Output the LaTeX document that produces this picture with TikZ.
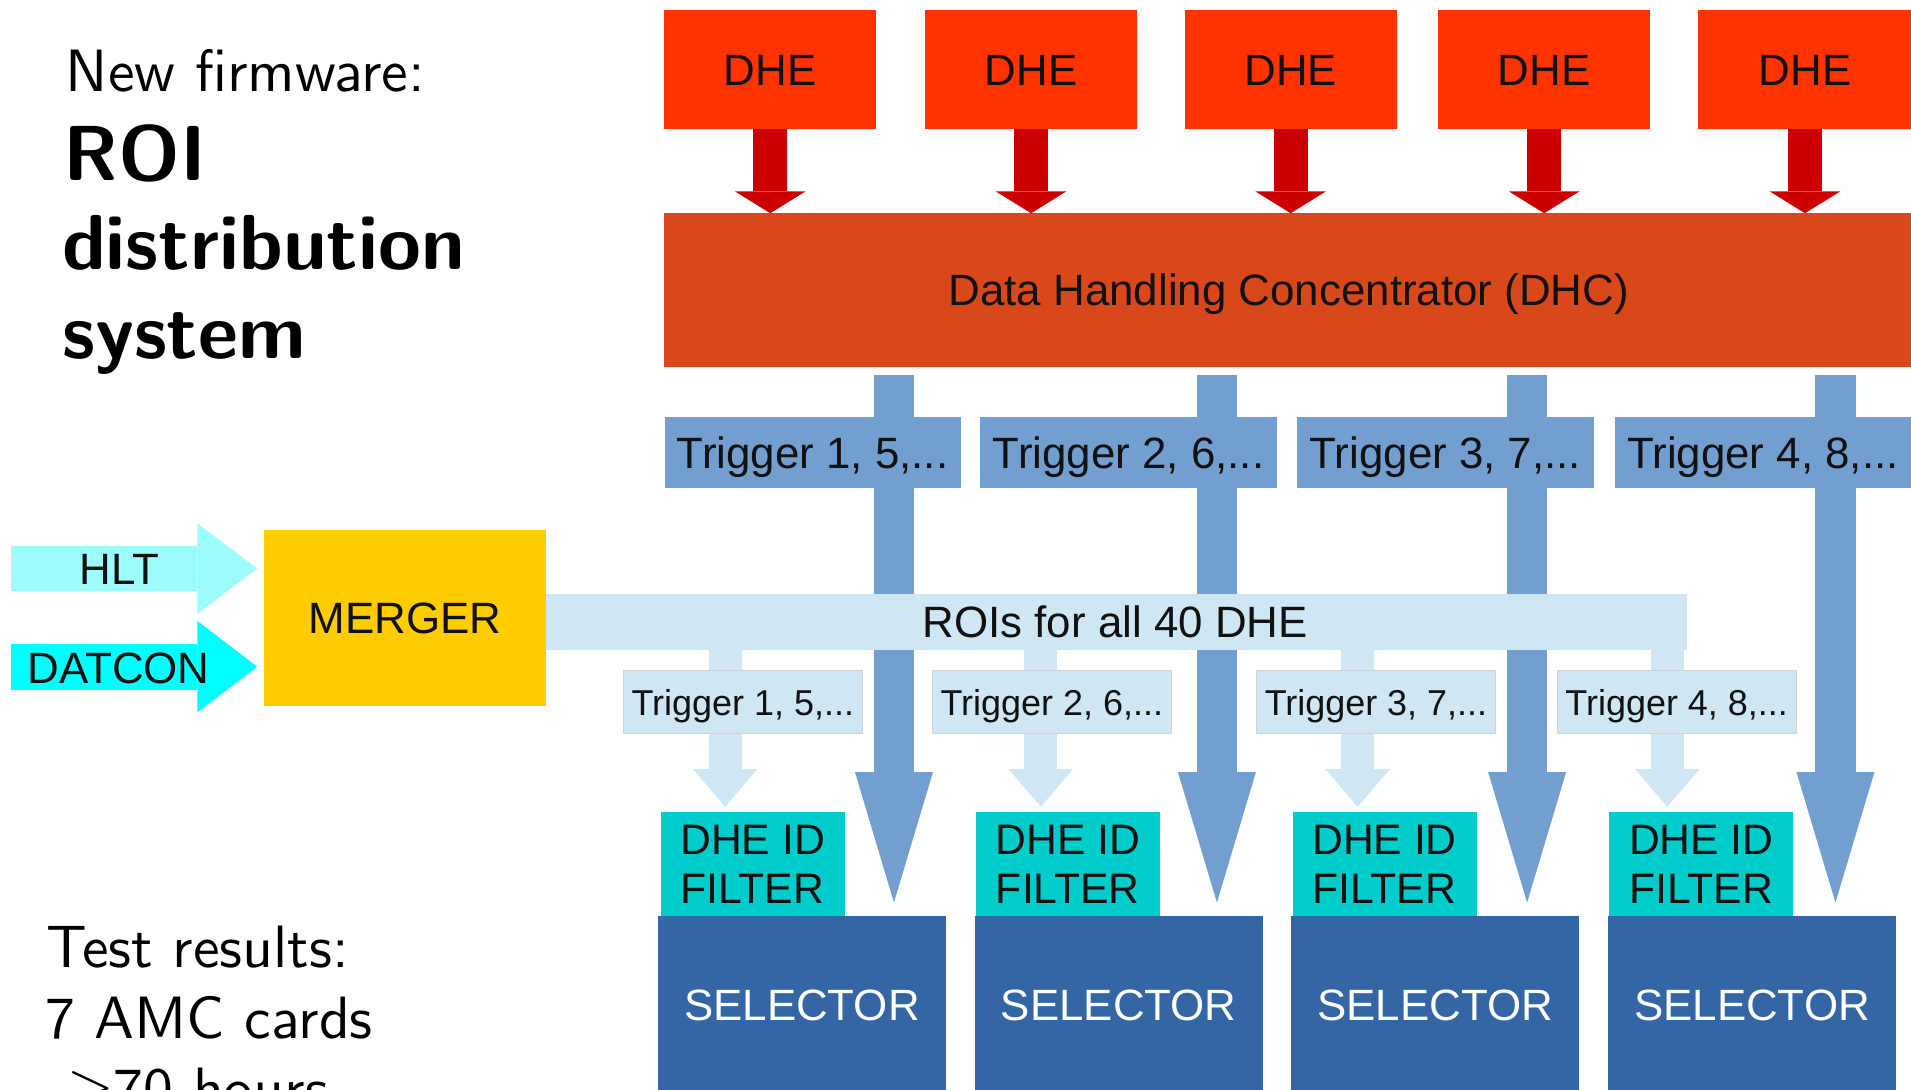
\RequirePackage{fix-cm}
\documentclass[tikz,border=0pt]{standalone}
\usepackage{fontspec}
\newfontfamily\arialf{Liberation Sans}
\newfontfamily\lmsten{lmsans10-regular}[Extension=.otf, BoldFont=lmsans10-bold]
\usetikzlibrary{arrows.meta}
\definecolor{dhecol}{HTML}{FF3300}
\definecolor{redarr}{HTML}{CC0000}
\definecolor{dhccol}{HTML}{D9481A}
\definecolor{trigblue}{HTML}{729FCF}
\definecolor{lightblue}{HTML}{CFE7F5}
\definecolor{filtcol}{HTML}{00CCCC}
\definecolor{selcol}{HTML}{3465A4}
\definecolor{mergcol}{HTML}{FFCC00}
\definecolor{hltcol}{HTML}{9CFCFC}
\definecolor{datcol}{HTML}{00FFFF}
\definecolor{txtcol}{HTML}{111111}
\tikzset{
  box/.style={rectangle, inner sep=0pt, outer sep=0pt, text=txtcol,
    font=\arialf\fontsize{36}{43}\selectfont, text height=26pt, text depth=0pt},
  dhebox/.style={box, fill=dhecol, minimum width=174pt, minimum height=97pt},
  dhcbox/.style={box, fill=dhccol, minimum width=1025pt, minimum height=126pt},
  trigtop/.style={box, fill=trigblue, minimum width=243pt, minimum height=58pt},
  roibar/.style={box, fill=lightblue, minimum width=936pt, minimum height=46pt},
  triglow/.style={box, fill=lightblue, draw=black!18, line width=0.8pt,
    minimum width=196pt, minimum height=51.5pt,
    font=\arialf\fontsize{29.5}{35}\selectfont, text height=21pt},
  filtbox/.style={box, fill=filtcol, minimum width=151pt, minimum height=85.5pt,
    align=left, font=\arialf\fontsize{35}{40}\selectfont, text height=65pt},
  selbox/.style={box, fill=selcol, text=white, minimum width=236pt, minimum height=145.5pt},
  mergbox/.style={box, fill=mergcol, minimum width=231pt, minimum height=145pt},
  arrtxt/.style={box},
  lefttxt/.style={anchor=base west, inner sep=0pt, outer sep=0pt,
    font=\lmsten\fontsize{49}{58}\selectfont},
  leftbold/.style={anchor=base west, inner sep=0pt, outer sep=0pt,
    font=\lmsten\bfseries\fontsize{64}{74}\selectfont},
  redarrow/.style={draw=redarr, line width=28pt,
    -{Triangle[width=58pt, length=18pt, line width=0pt]}},
  bluearrow/.style={draw=trigblue, line width=33pt,
    -{Triangle[width=64pt, length=107pt, line width=0pt]}},
  lightarrow/.style={draw=lightblue, line width=27pt,
    -{Triangle[width=53pt, length=31pt, line width=0pt]}},
  hltarrow/.style={draw=hltcol, line width=37pt,
    -{Triangle[width=74pt, length=49pt, line width=0pt]}},
  datarrow/.style={draw=datcol, line width=38pt,
    -{Triangle[width=75pt, length=49pt, line width=0pt]}},
}
\begin{document}
\begin{tikzpicture}[x=1pt, y=-1pt]
\useasboundingbox (0,0) rectangle (1568,894);
\fill[white] (0,0) rectangle (1568,894);
\begin{scope}
\clip (0,0) rectangle (1568,894);

% left texts
\node[lefttxt] (nf) at (54,75) {New firmware:};
\node[leftbold] (t1) at (52,147.7) {ROI};
\node[leftbold] (t2) at (51,221.5) {distribution};
\node[leftbold] (t3) at (51,294) {system};
\node[lefttxt] (tr) at (38,794) {Test results:};
\node[lefttxt] (amc) at (37,852) {7 AMC cards};
\node[lefttxt] (hrs) at (55,910) {$\geq$70 hours};

% DHE row and DHC
\node[dhebox] (dhe1) at (632,57) {DHE};
\node[dhebox] (dhe2) at (846,57) {DHE};
\node[dhebox] (dhe3) at (1059,57) {DHE};
\node[dhebox] (dhe4) at (1267,57) {DHE};
\node[dhebox, minimum width=176pt] (dhe5) at (1481,57) {DHE};
\node[dhcbox] (dhc) at (1057.5,238) {Data Handling Concentrator (DHC)};
\foreach \i in {1,...,5} {
  \draw[redarrow] (dhe\i.south) -- (dhe\i.south |- dhc.north);
}

% bottom boxes
\node[filtbox] (filt1) at (617.5,708.75) {DHE ID\\FILTER};
\node[filtbox] (filt2) at (876.5,708.75) {DHE ID\\FILTER};
\node[filtbox] (filt3) at (1136,708.75) {DHE ID\\FILTER};
\node[filtbox] (filt4) at (1396,708.75) {DHE ID\\FILTER};
\node[selbox] (sel1) at (658,824.25) {SELECTOR};
\node[selbox] (sel2) at (918,824.25) {SELECTOR};
\node[selbox] (sel3) at (1177.5,824.25) {SELECTOR};
\node[selbox] (sel4) at (1437.5,824.25) {SELECTOR};

% trigger arrows from DHC
\coordinate (bx1) at (733.5,0);
\coordinate (bx2) at (998.5,0);
\coordinate (bx3) at (1253,0);
\coordinate (bx4) at (1506,0);
\foreach \i in {1,...,4} {
  \draw[bluearrow, shorten <=7pt, shorten >=11pt] (bx\i |- dhc.south) -- (bx\i |- sel\i.north);
}
\node[trigtop] (tt1) at (666.75,371) {Trigger 1, 5,...};
\node[trigtop] (tt2) at (926,371) {Trigger 2, 6,...};
\node[trigtop] (tt3) at (1186,371) {Trigger 3, 7,...};
\node[trigtop] (tt4) at (1446.5,371) {Trigger 4, 8,...};

% merger and inputs
\node[mergbox] (merger) at (332.5,507) {MERGER};
\coordinate (hlts) at (9.4,466.5);
\coordinate (dats) at (9.4,547);
\draw[hltarrow, shorten >=6pt] (hlts) -- (hlts -| merger.west);
\draw[datarrow, shorten >=6pt] (dats) -- (dats -| merger.west);
\node[arrtxt] (hlt) at (98,466.5) {HLT};
\node[arrtxt] (datcon) at (97.3,547.5) {DATCON};

% ROI bar and distribution
\node[roibar, anchor=west] (bar) at (merger.east |- 0,510) {};
\node[arrtxt] (roitxt) at (915,510) {ROIs for all 40 DHE};
\coordinate (lx1) at (595,0);
\coordinate (lx2) at (854,0);
\coordinate (lx3) at (1114,0);
\coordinate (lx4) at (1368,0);
\foreach \i in {1,...,4} {
  \draw[lightarrow, shorten >=4pt] (lx\i |- bar.south) -- (lx\i |- filt\i.north);
}
\node[triglow] (tl1) at (609.5,576.25) {Trigger 1, 5,...};
\node[triglow] (tl2) at (863,576.25) {Trigger 2, 6,...};
\node[triglow] (tl3) at (1129,576.25) {Trigger 3, 7,...};
\node[triglow] (tl4) at (1375.75,576.25) {Trigger 4, 8,...};
\end{scope}
\end{tikzpicture}
\end{document}
